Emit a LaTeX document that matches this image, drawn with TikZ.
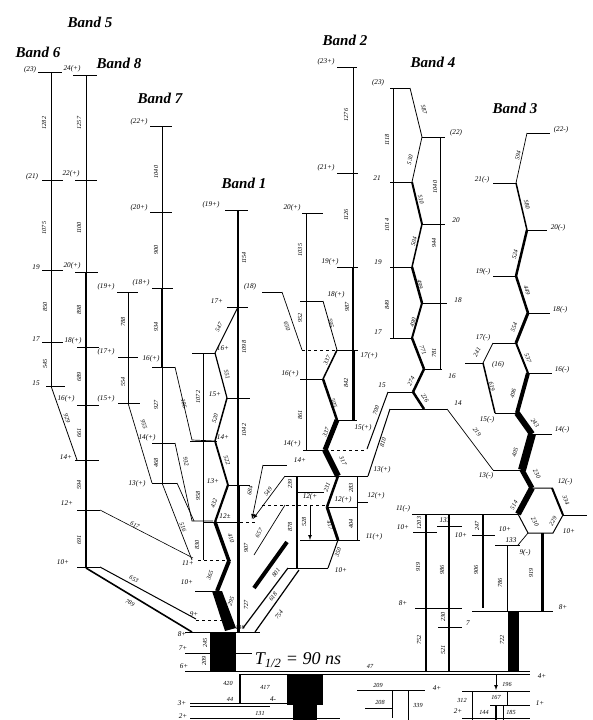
\documentclass[tikz,border=0pt]{standalone}
\usepackage{fontspec}
\setmainfont{Liberation Serif}
\tikzset{
 lvl/.style={line width=1pt},
 tr/.style={line width=0.7pt},
 tl/.style={font=\fontsize{6.2}{7}\selectfont\itshape, inner sep=0pt},
 ll/.style={font=\fontsize{7.2}{8}\selectfont\itshape, inner sep=0pt},
 bandlab/.style={font=\fontsize{15}{16}\selectfont\bfseries\itshape, inner sep=0pt},
}
\newcommand\Lv[3]{\draw[lvl] (#1,#3) -- (#2,#3);}
\newcommand\Tl[4]{\node[tl,rotate=#1] at (#2,#3) {#4};}
\newcommand\Ll[3]{\node[ll] at (#1,#2) {#3};}
\newcommand\Tr[5]{\draw[line width=#1] (#2,#3) -- (#4,#5);}
\begin{document}
\begin{tikzpicture}[x=1pt,y=-1pt]
\useasboundingbox (0,0) rectangle (593,720);
% band titles
\node[bandlab] at (90,22) {Band 5};
\node[bandlab] at (38,52) {Band 6};
\node[bandlab] at (119,63) {Band 8};
\node[bandlab] at (160,98) {Band 7};
\node[bandlab] at (244,183) {Band 1};
\node[bandlab] at (345,40) {Band 2};
\node[bandlab] at (433,62) {Band 4};
\node[bandlab] at (515,108) {Band 3};
% ---------------- Band 6
\Lv{38}{62}{72} \Lv{42}{63}{180} \Lv{42}{63}{270} \Lv{42}{63}{342} \Lv{46}{65}{386}
\Tr{0.7pt}{51}{72}{51}{386}
\Tr{0.8pt}{51}{386}{77}{460}
\Ll{30}{70}{(23)} \Ll{32}{177}{(21)} \Ll{36}{267}{19} \Ll{36}{339}{17} \Ll{36}{383}{15}
\Tl{90}{44}{123}{1282} \Tl{90}{44}{228}{1075} \Tl{90}{45}{307}{850} \Tl{90}{45}{364}{545} \Tl{-71}{67}{418}{929}
% ---------------- Band 8
\Lv{73}{97}{75} \Lv{75}{97}{180} \Lv{75}{98}{272} \Lv{77}{99}{347} \Lv{77}{99}{405} \Lv{75}{99}{460} \Lv{77}{100}{510} \Lv{77}{100}{567}
\Tr{0.7pt}{86}{75}{86}{272} \Tr{1.2pt}{86}{272}{86}{347} \Tr{1.8pt}{86}{347}{86}{460} \Tr{2.6pt}{86}{460}{86}{568}
\Ll{72}{69}{24(+)} \Ll{71}{174}{22(+)} \Ll{72}{266}{20(+)} \Ll{73}{341}{18(+)} \Ll{66}{399}{16(+)} \Ll{66}{457}{14+} \Ll{67}{503}{12+} \Ll{63}{562}{10+}
\Tl{90}{79}{123}{1257} \Tl{90}{79}{228}{1100} \Tl{90}{79}{310}{898} \Tl{90}{79}{377}{689} \Tl{90}{79}{433}{661} \Tl{90}{79}{485}{594} \Tl{90}{79}{540}{691}
\Tr{0.6pt}{100}{510}{193}{558} \Tl{-27}{135}{525}{617}
\Tr{1pt}{100}{567}{196}{619} \Tl{-28}{134}{579}{653}
\Tr{1.6pt}{86}{568}{192}{632} \Tl{-31}{130}{603}{789}
% ---------------- Band 7
\Lv{150}{172}{126} \Lv{150}{172}{212} \Lv{152}{173}{288} \Lv{152}{175}{367} \Lv{152}{175}{443} \Lv{152}{177}{483}
\Tr{0.7pt}{162}{126}{162}{288} \Tr{1.4pt}{162}{288}{162}{367} \Tr{1pt}{162}{367}{162}{483}
\Ll{139}{122}{(22+)} \Ll{139}{208}{(20+)} \Ll{141}{283}{(18+)} \Ll{151}{359}{16(+)} \Ll{147}{438}{14(+)} \Ll{137}{484}{13(+)}
\Tl{90}{156}{172}{1040} \Tl{90}{156}{250}{900} \Tl{90}{156}{327}{934} \Tl{90}{156}{405}{927} \Tl{90}{156}{463}{468}
% side column
\Lv{117}{138}{292} \Lv{118}{138}{357} \Lv{118}{140}{403}
\Tr{0.7pt}{128}{292}{128}{403}
\Ll{106}{287}{(19+)} \Ll{106}{352}{(17+)} \Ll{106}{399}{(15+)}
\Tl{90}{123}{322}{788} \Tl{90}{123}{382}{554}
\Tr{0.7pt}{128}{403}{152}{483} \Tl{-73}{144}{424}{955}
\draw[tr] (175,367) -- (192,440) -- (215,441); \Tl{-77}{184}{404}{106}
\Tr{0.7pt}{203}{353}{203}{441} \Tl{90}{198}{397}{1072}
\draw[tr] (175,443) -- (192,521) -- (213,521); \Tl{-78}{186}{462}{932}
\Tr{0.7pt}{203}{441}{203}{560} \Tl{90}{198}{496}{958} \Tl{90}{197}{545}{830}
\Tr{0.7pt}{162}{483}{192}{560} \Tl{-69}{183}{527}{516}
\Tr{0.7pt}{177}{483}{194}{521}
% ---------------- Band 1
\Lv{225}{248}{210} \Lv{227}{248}{307} \Lv{192}{215}{353} \Lv{227}{250}{398} \Lv{190}{217}{441} \Lv{227}{250}{485} \Lv{203}{240}{522}
\draw[dashed] (240,522) -- (257,522);
\draw[dashed] (198,560) -- (232,560);
\Lv{195}{217}{591}
\draw[dashed] (196,620) -- (226,620);
\Lv{185}{260}{632} \Lv{185}{252}{653}
\draw[lvl] (185,671) -- (530,671);
\draw[lvl] (240,674) -- (530,674);
\Ll{211}{205}{(19+)} \Ll{217}{301}{17+} \Ll{223}{348}{16+} \Ll{215}{394}{15+} \Ll{223}{437}{14+} \Ll{213}{481}{13+} \Ll{225}{516}{12±}
\Ll{188}{563}{11+} \Ll{187}{582}{10+} \Ll{194}{614}{9+} \Ll{182}{634}{8+} \Ll{183}{648}{7+} \Ll{184}{666}{6+}
\Tr{1.2pt}{238}{210}{238}{307} \Tr{1.8pt}{238}{307}{238}{398} \Tr{2.4pt}{238}{398}{238}{485} \Tr{3pt}{238}{485}{238}{632}
\Tl{90}{244}{258}{1154} \Tl{90}{244}{347}{1098} \Tl{90}{244}{430}{1042} \Tl{90}{246}{548}{907} \Tl{90}{246}{605}{727}
\Tr{1pt}{238}{307}{215}{353} \Tl{63}{219}{327}{547}
\Tr{1.2pt}{215}{353}{227}{398} \Tl{-75}{227}{374}{551}
\Tr{1.5pt}{227}{398}{215}{441} \Tl{74}{215}{418}{520}
\Tr{1.8pt}{215}{441}{228}{485} \Tl{-73}{227}{460}{522}
\Tr{2.2pt}{228}{485}{215}{522} \Tl{71}{214}{503}{432}
\Tr{3.5pt}{215}{522}{229}{561} \Tl{-70}{231}{538}{410}
\Tr{4pt}{229}{561}{217}{591} \Tl{68}{210}{575}{365}
\fill (212,591) -- (222,591) -- (236,628) -- (225,631) -- cycle;
\Tl{70}{231}{601}{295}
\fill (210,633) rectangle (236,671);
\Tl{90}{205}{643}{245} \Tl{90}{204}{661}{209}
\node[tl] at (240,627) {136};
% right of band 1
\Lv{263}{287}{465} \Ll{300}{460}{14+}
\draw[tr,-latex] (263,465) -- (252,519); \Tl{79}{250}{491}{684}
\draw[tr,-latex] (285,476) -- (253,519); \Tl{53}{268}{492}{549}
\Lv{285}{368}{476}
\Tr{2pt}{297}{476}{297}{568} \Tl{90}{290}{484}{239} \Tl{90}{290}{527}{878}
\Lv{297}{324}{492} \Ll{310}{497}{12(+}
\draw[dashed] (262,505) -- (327,505);
\draw[tr,-latex] (310,505) -- (310,540); \Tl{90}{304}{522}{528}
\draw[tr] (285,505) -- (254,555); \Tl{58}{259}{533}{657}
\draw[line width=4pt] (287,542) -- (254,588); \Tl{53}{276}{573}{801}
\Tr{1.2pt}{288}{568}{243}{628} \Tl{53}{273}{597}{618}
\Tr{1.2pt}{299}{570}{255}{632} \Tl{55}{279}{615}{754}
% ---------------- Band 2
\Lv{337}{357}{67} \Lv{337}{358}{173} \Lv{337}{358}{267} \Lv{337}{358}{350} \Lv{337}{357}{420}
\Tr{0.7pt}{353}{67}{353}{267} \Tr{1.5pt}{353}{267}{353}{350} \Tr{3pt}{353}{350}{353}{420}
\Ll{326}{62}{(23+)} \Ll{326}{168}{(21+)} \Ll{330}{262}{19(+)} \Ll{369}{356}{17(+)} \Ll{363}{428}{15(+)}
\Tl{90}{346}{115}{1276} \Tl{90}{346}{215}{1126} \Tl{90}{347}{307}{987} \Tl{90}{346}{383}{842}
\Lv{302}{323}{213} \Lv{300}{323}{301} \Lv{300}{323}{379} \Lv{303}{325}{450}
\Tr{0.8pt}{306}{213}{306}{450}
\Ll{292}{208}{20(+)} \Ll{336}{295}{18(+)} \Ll{290}{374}{16(+)} \Ll{292}{444}{14(+)}
\Tl{90}{300}{250}{1035} \Tl{90}{300}{318}{952} \Tl{90}{300}{415}{861}
\draw[dashed] (325,450) -- (367,450);
\Lv{262}{282}{292} \Ll{250}{287}{(18)}
\Tr{0.7pt}{282}{292}{302}{350} \Tl{-71}{287}{326}{650}
\draw[dashed] (302,350) -- (337,350);
\Tr{0.8pt}{323}{301}{337}{350} \Tl{-74}{331}{323}{595}
\Tr{1.5pt}{337}{350}{323}{379} \Tl{64}{327}{360}{337}
\Tr{2.5pt}{323}{379}{337}{420} \Tl{-71}{334}{403}{505}
\Tr{5pt}{337}{420}{325}{450} \Tl{68}{326}{432}{337}
\Tr{6pt}{325}{450}{338}{476} \Tl{-63}{343}{461}{317}
\Tr{2.5pt}{338}{476}{327}{507} \Tl{70}{327}{487}{231}
\Tr{3pt}{327}{507}{338}{540} \Tl{-72}{330}{525}{417}
\Tr{1pt}{338}{540}{328}{568} \Tl{70}{338}{552}{350}
\Lv{327}{357}{507} \Ll{343}{500}{12(+)}
\Tr{1pt}{357}{476}{357}{540} \Tl{90}{351}{488}{283} \Tl{90}{351}{524}{404}
\Lv{357}{368}{502} \Ll{376}{496}{12(+)}
\Lv{300}{360}{540} \Ll{374}{537}{11(+)}
\Lv{287}{328}{568} \Ll{341}{570}{10+}
\Ll{382}{470}{13(+)}
% ---------------- Band 4
\Lv{390}{410}{88} \Lv{390}{412}{182} \Lv{390}{412}{267} \Lv{390}{412}{338}
\Tr{0.7pt}{393}{88}{393}{338}
\Ll{378}{83}{(23)} \Ll{377}{178}{21} \Ll{378}{262}{19} \Ll{378}{332}{17}
\Tl{90}{387}{140}{1118} \Tl{90}{387}{225}{1014} \Tl{90}{387}{305}{849}
\Lv{422}{445}{137} \Lv{422}{445}{224} \Lv{422}{447}{303} \Lv{424}{442}{369}
\Tr{0.7pt}{440}{137}{440}{369}
\Ll{456}{133}{(22)} \Ll{456}{220}{20} \Ll{458}{300}{18} \Ll{452}{376}{16}
\Tl{90}{435}{187}{1040} \Tl{90}{434}{243}{944} \Tl{90}{434}{353}{781}
\Tr{0.8pt}{410}{88}{422}{137} \Tl{-76}{424}{110}{587}
\Tr{0.8pt}{422}{137}{412}{182} \Tl{76}{410}{160}{530}
\Tr{2pt}{412}{182}{422}{224} \Tl{-76}{421}{200}{510}
\Tr{1.5pt}{422}{224}{412}{267} \Tl{77}{414}{242}{504}
\Tr{2.5pt}{412}{267}{422}{303} \Tl{-74}{420}{284}{499}
\Tr{2pt}{422}{303}{412}{338} \Tl{74}{413}{322}{490}
\Tr{2.5pt}{412}{338}{424}{369} \Tl{-69}{423}{350}{771}
\Tr{2.5pt}{424}{369}{413}{392} \Tl{64}{411}{381}{274}
\Tr{2.5pt}{413}{392}{424}{409} \Tl{-57}{425}{398}{226}
\Lv{388}{413}{392} \Ll{382}{385}{15}
\Lv{390}{447}{409} \Ll{458}{403}{14}
\Tr{1pt}{388}{392}{367}{449} \Tl{70}{376}{410}{700}
\Tr{1pt}{390}{409}{368}{476} \Tl{72}{383}{442}{810}
\Tr{0.7pt}{447}{409}{493}{470} \Tl{-53}{477}{432}{219}
% ---------------- Band 3
\Lv{527}{550}{133} \Lv{493}{516}{183} \Lv{527}{547}{230} \Lv{493}{516}{276} \Lv{528}{550}{313} \Lv{493}{516}{343} \Lv{528}{552}{373} \Lv{465}{483}{363} \Lv{495}{517}{413} \Lv{532}{552}{434} \Lv{493}{522}{470}
\Ll{561}{130}{(22-)} \Ll{482}{180}{21(-)} \Ll{558}{228}{20(-)} \Ll{483}{272}{19(-)} \Ll{560}{310}{18(-)} \Ll{483}{338}{17(-)} \Ll{562}{370}{16(-)} \Ll{498}{365}{(16)} \Ll{487}{420}{15(-)} \Ll{562}{430}{14(-)} \Ll{486}{476}{13(-)}
\Tr{0.7pt}{527}{133}{516}{183} \Tl{78}{518}{156}{594}
\Tr{1.5pt}{516}{183}{527}{230} \Tl{-77}{527}{205}{580}
\Tr{2.5pt}{527}{230}{516}{276} \Tl{77}{515}{255}{524}
\Tr{2.5pt}{516}{276}{528}{313} \Tl{-72}{527}{290}{449}
\Tr{3pt}{528}{313}{516}{343} \Tl{68}{514}{327}{554}
\Tr{2pt}{516}{343}{528}{373} \Tl{-68}{528}{358}{537}
\Tr{4pt}{528}{373}{517}{413} \Tl{75}{513}{393}{496}
\Tr{6pt}{517}{413}{532}{434} \Tl{-54}{535}{423}{243}
\Tr{8pt}{532}{434}{522}{470} \Tl{74}{515}{452}{405}
\Tr{0.8pt}{493}{343}{483}{363} \Tl{63}{477}{352}{241}
\Tr{1.5pt}{483}{363}{495}{413} \Tl{-76}{492}{387}{619}
% hexagon
\Tr{5pt}{522}{470}{532}{488} \Tl{-61}{537}{474}{230}
\Tr{6pt}{518}{514}{532}{488} \Tl{63}{514}{505}{514}
\draw[lvl] (532,488) -- (552,488) -- (563,515) -- (553,533) -- (528,533) -- (518,514);
\draw[line width=2pt] (552,488) -- (563,515); \Tl{-68}{566}{500}{334}
\Tl{-60}{535}{522}{230} \Tl{60}{553}{521}{229}
\Lv{563}{587}{515}
\Ll{565}{482}{12(-)}
\Ll{569}{531}{10+}
\Lv{412}{518}{514} \Ll{403}{509}{11(-)}
\draw[tr] (528,533) -- (518,545); \Lv{495}{520}{545}
\Ll{511}{540}{133} \Ll{525}{553}{9(-)}
% lower right
\Lv{413}{437}{532} \Ll{403}{527}{10+} \Tl{90}{419}{523}{1203}
\Lv{437}{462}{526} \Ll{445}{520}{133} \Ll{461}{535}{10+}
\Tr{2.5pt}{426}{514}{426}{671} \Tl{90}{418}{567}{919} \Tl{90}{419}{640}{752}
\Tr{1.5pt}{449}{514}{449}{671} \Tl{90}{442}{570}{986} \Tl{90}{443}{617}{230} \Tl{90}{443}{650}{521}
\Lv{415}{462}{608} \Ll{403}{603}{8+}
\Lv{438}{462}{627} \Ll{468}{623}{7}
\Tr{1.5pt}{483}{514}{483}{608} \Tl{90}{477}{526}{247} \Tl{90}{476}{570}{906}
\Lv{472}{495}{535} \Ll{505}{529}{10+}
\Tr{0.8pt}{507}{545}{507}{611} \Tl{90}{500}{583}{786}
\Lv{472}{553}{611} \Ll{563}{607}{8+}
\Tr{3pt}{542}{533}{542}{611} \Tl{90}{531}{573}{919}
\fill (508,611) rectangle (519,671); \Tl{90}{502}{640}{722}
% bottom
\node[font=\fontsize{18}{18}\selectfont\itshape, inner sep=0pt] at (298,660) {T\textsubscript{1/2} = 90 ns};
\node[tl] at (370,666) {47};
\Ll{542}{676}{4+}
\Tr{1.5pt}{240}{674}{240}{704} \node[tl] at (228,683) {420};
\node[tl] at (265,687) {417}; \Ll{273}{699}{4-}
\fill (287,674) rectangle (323,705); \fill (293,705) rectangle (317,720);
\draw[lvl] (190,703) -- (287,703); \draw[lvl] (190,706) -- (270,706);
\Ll{182}{703}{3+} \node[tl] at (230,699) {44};
\draw[lvl] (190,718) -- (340,718); \Ll{183}{716}{2+} \node[tl] at (260,713) {131};
\Lv{357}{425}{690} \node[tl] at (378,685) {209} ; \Ll{437}{688}{4+}
\Tr{0.8pt}{392}{690}{392}{718} \node[tl] at (380,702) {208};
\draw[lvl] (365,708) -- (392,708);
\Tr{1pt}{408}{690}{408}{720} \node[tl] at (418,705) {339};
\draw[tr,-latex] (496,674) -- (496,690); \node[tl] at (507,684) {196};
\Lv{462}{530}{691}
\Tr{0.8pt}{472}{691}{472}{720} \node[tl] at (462,700) {312};
\Tr{0.8pt}{507}{691}{507}{705} \node[tl] at (496,697) {167};
\Lv{490}{530}{705} \Ll{540}{703}{1+}
\Ll{458}{711}{2+}
\Tr{1.5pt}{496}{705}{496}{720} \Tr{0.8pt}{503}{705}{503}{720}
\node[tl] at (484,712) {144}; \node[tl] at (511,712) {185};
\Lv{462}{530}{718}
\end{tikzpicture}
\end{document}
